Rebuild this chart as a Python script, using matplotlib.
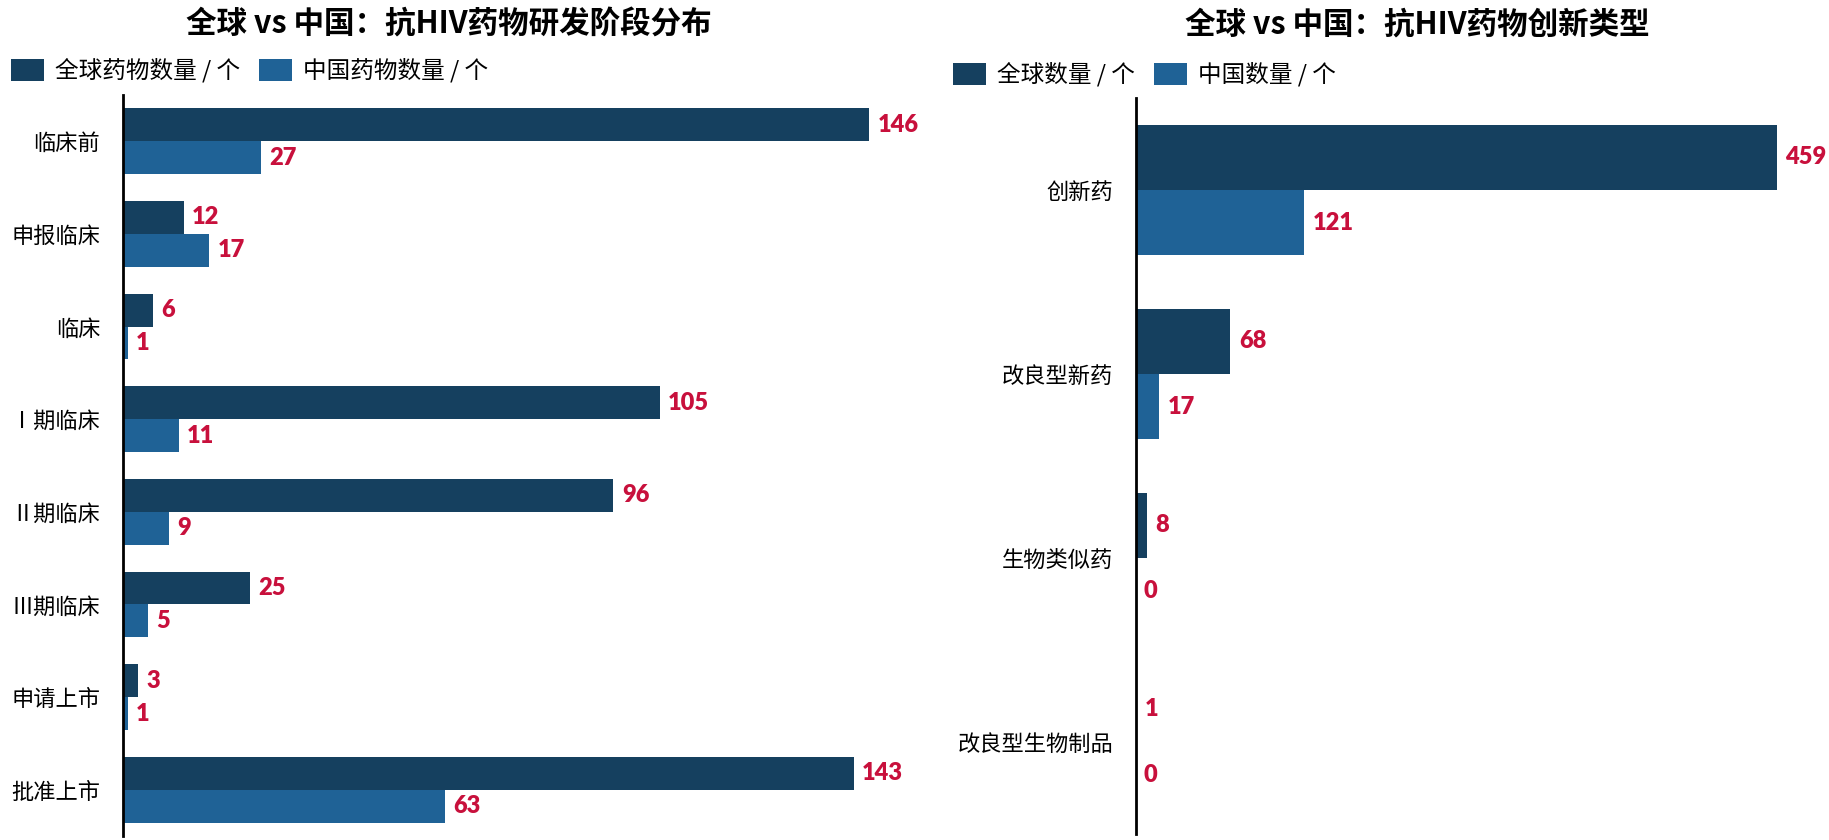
import matplotlib
matplotlib.use("Agg")
import matplotlib.pyplot as plt
import numpy as np

plt.rcParams['font.family'] = ['Noto Sans CJK SC', 'DejaVu Sans']

# left chart: R&D stage distribution
stages = ["临床前", "申报临床", "临床", "Ⅰ期临床", "Ⅱ期临床", "Ⅲ期临床", "申请上市", "批准上市"]
stage_global = [146, 12, 6, 105, 96, 25, 3, 143]
stage_china = [27, 17, 1, 11, 9, 5, 1, 63]

# right chart: innovation type
types = ["创新药", "改良型新药", "生物类似药", "改良型生物制品"]
type_global = [459, 68, 8, 1]
type_china = [121, 17, 0, 0]

DARK = "#15405F"
BLUE = "#1F6296"
RED = "#C8103C"

W, H = 1829, 840
fig = plt.figure(figsize=(W / 100, H / 100), dpi=100)

ax1 = fig.add_axes([122.5 / W, 4 / H, 760 / W, 741 / H])
ax2 = fig.add_axes([1135.5 / W, 6 / H, 656 / W, 736 / H])


def draw(ax, cats, g, c, xmax, lab_g, lab_c):
    y = np.arange(len(cats))
    h = 0.355
    b1 = ax.barh(y - h / 2, g, height=h, color=DARK, label=lab_g)
    b2 = ax.barh(y + h / 2, c, height=h, color=BLUE, label=lab_c)
    for b in (b1, b2):
        ax.bar_label(b, padding=6, color=RED, fontsize=17, fontweight='heavy',
                     family=['Lato', 'DejaVu Sans'], clip_on=False)
    ax.set_ylim(len(cats) - 0.5, -0.5)
    ax.set_xlim(0, xmax)
    ax.set_yticks(y, cats, fontsize=16)
    ax.tick_params(axis='y', length=0, pad=16)
    ax.set_xticks([])
    for s in ('top', 'right', 'bottom'):
        ax.spines[s].set_visible(False)
    ax.spines['left'].set_linewidth(2)
    ax.spines['left'].set_color('black')
    return b1, b2


h1 = draw(ax1, stages, stage_global, stage_china, 148.6, "全球药物数量 / 个", "中国药物数量 / 个")
h2 = draw(ax2, types, type_global, type_china, 469.7, "全球数量 / 个", "中国数量 / 个")

fig.text(449 / W, 1 - 25 / H, "全球 vs 中国：抗HIV药物研发阶段分布", ha='center', va='center',
         fontsize=22, fontweight='bold')
fig.text(1417 / W, 1 - 25 / H, "全球 vs 中国：抗HIV药物创新类型", ha='center', va='center',
         fontsize=22, fontweight='bold')

leg_kw = dict(loc='center left', ncol=2, frameon=False, fontsize=17, borderpad=0,
              borderaxespad=0, handlelength=1.4, handleheight=1.06,
              handletextpad=0.47, columnspacing=0.8)
fig.legend(handles=list(h1), bbox_to_anchor=(11 / W, 1 - 70.5 / H), **leg_kw)
fig.legend(handles=list(h2), bbox_to_anchor=(953 / W, 1 - 74.5 / H), **leg_kw)

fig.savefig("out.png", dpi=100)
